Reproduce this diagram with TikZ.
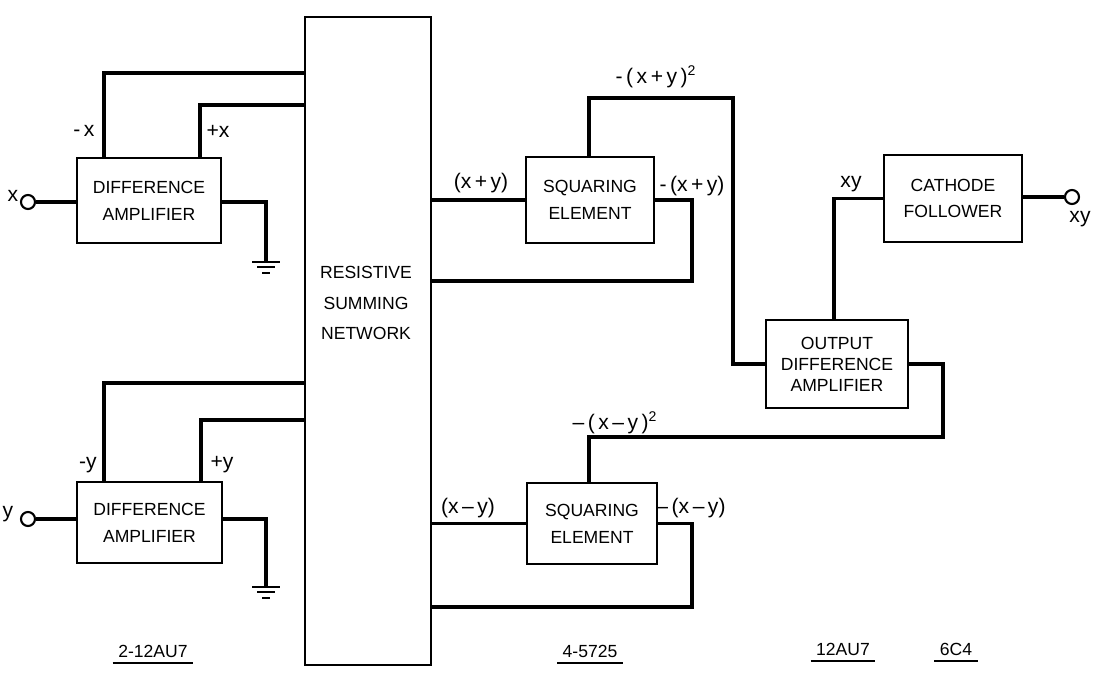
\documentclass[tikz,border=0pt]{standalone}
\usepackage{fontspec}
\setmainfont{Liberation Sans}
\tikzset{
  pics/earth/.style={code={
    \draw[line width=1.2pt] (-14,0) -- (14,0);
    \draw[line width=1.2pt] (-9,5) -- (9,5);
    \draw[line width=1.2pt] (-4,11) -- (4,11);
  }}
}
\begin{document}
\begin{tikzpicture}[x=0.02cm,y=-0.02cm,
    wire/.style={line width=2pt},
    blk/.style={draw,line width=1.2pt,inner sep=0pt,align=center,font=\fontsize{10}{15.3}\selectfont},
    term/.style={draw,circle,line width=1.2pt,minimum size=0.28cm,inner sep=0pt,fill=white},
    lbl/.style={inner sep=1pt,font=\fontsize{12}{14}\selectfont},
    tube/.style={inner sep=3pt,font=\fontsize{10}{12}\selectfont}]
    \useasboundingbox (0,0) rectangle (1102,693);

    % blocks
    \node[blk,minimum width=2.88cm,minimum height=1.7cm] (amp1) at (149,200.5) {DIFFERENCE\\AMPLIFIER};
    \node[blk,minimum width=2.9cm,minimum height=1.62cm] (amp2) at (149.5,522.5) {DIFFERENCE\\AMPLIFIER};
    \node[blk,minimum width=2.52cm,minimum height=12.96cm] (net) at (368,341) {};
    \node[align=center,font=\fontsize{10}{17.6}\selectfont] (nettxt) at (366,303) {RESISTIVE\\SUMMING\\NETWORK};
    \node[blk,minimum width=2.56cm,minimum height=1.72cm] (sq1) at (590,200) {SQUARING\\ELEMENT};
    \node[blk,minimum width=2.6cm,minimum height=1.62cm] (sq2) at (592,523.5) {SQUARING\\ELEMENT};
    \node[blk,minimum width=2.84cm,minimum height=1.76cm,font=\fontsize{10}{12}\selectfont] (out) at (837,364) {OUTPUT\\DIFFERENCE\\AMPLIFIER};
    \node[blk,minimum width=2.76cm,minimum height=1.74cm,font=\fontsize{10}{14.7}\selectfont] (cath) at (953,198.5) {CATHODE\\FOLLOWER};

    % x input amplifier
    \node[term] (inx) at (28,202) {};
    \node[lbl] (lx) at (13,196) {x};
    \draw[wire] (inx) -- (amp1.west |- inx);
    \coordinate (g1) at (266,262);
    \draw[wire] (amp1.east |- inx) -| (g1);
    \pic at (g1) {earth};
    \coordinate (mx) at (104,73);
    \coordinate (px) at (200,105);
    \draw[wire] (amp1.north -| mx) |- (net.west |- mx);
    \draw[wire] (amp1.north -| px) |- (net.west |- px);
    \node[lbl] (lmx) at (84,131) {-\,x};
    \node[lbl] (lpx) at (218,131) {+x};

    % y input amplifier
    \node[term] (iny) at (28,519) {};
    \node[lbl] (ly) at (8,514) {y};
    \draw[wire] (iny) -- (amp2.west |- iny);
    \coordinate (g2) at (266,587);
    \draw[wire] (amp2.east |- iny) -| (g2);
    \pic at (g2) {earth};
    \coordinate (my) at (104,383);
    \coordinate (py) at (201,420);
    \draw[wire] (amp2.north -| my) |- (net.west |- my);
    \draw[wire] (amp2.north -| py) |- (net.west |- py);
    \node[lbl] (lmy) at (88,465) {-y};
    \node[lbl] (lpy) at (222,465) {+y};

    % upper squaring element
    \draw[wire] (net.east |- sq1.west) -- (sq1.west);
    \coordinate (s1) at (692,281);
    \draw[wire] (sq1.east) -| (s1) -- (net.east |- s1);
    \coordinate (t1) at (589,98);
    \coordinate (q1) at (733,98);
    \draw[wire] (sq1.north -| t1) |- (q1) |- (out.west);
    \node[lbl] (lsum) at (481,183) {(x\,+\,y)};
    \node[lbl] (lnsum) at (692,186) {-\,(x\,+\,y)};
    \node[lbl] (lsumsq) at (656,77) {-\,(\,x\,+\,y\,)\textsuperscript{2}};

    % lower squaring element
    \draw[wire] (net.east |- sq2.west) -- (sq2.west);
    \coordinate (s2) at (692,607);
    \draw[wire] (sq2.east) -| (s2) -- (net.east |- s2);
    \coordinate (t2) at (589,437);
    \coordinate (q2) at (943,437);
    \draw[wire] (out.east) -| (q2) -| (sq2.north -| t2);
    \node[lbl] (ldif) at (468,508) {(x\,--\,y)};
    \node[lbl] (lndif) at (691,508) {--\,(x\,--\,y)};
    \node[lbl] (ldifsq) at (615,423) {--\,(\,x\,--\,y\,)\textsuperscript{2}};

    % output
    \coordinate (t3) at (834,199);
    \draw[wire] (out.north -| t3) |- (cath.west);
    \node[term] (outxy) at (1072,197) {};
    \draw[wire] (cath.east |- outxy) -- (outxy);
    \node[lbl] (lxy) at (851,184) {xy};
    \node[lbl] (loutxy) at (1080,219) {xy};

    % tube types
    \node[tube] (tb1) at (153,651) {2-12AU7};
    \node[tube] (tb2) at (590,651) {4-5725};
    \node[tube] (tb3) at (843,649) {12AU7};
    \node[tube] (tb4) at (956,649) {6C4};
    \foreach \t in {tb1,tb2,tb3,tb4}
      \draw[line width=1.2pt] (\t.south west) -- (\t.south east);
\end{tikzpicture}
\end{document}
